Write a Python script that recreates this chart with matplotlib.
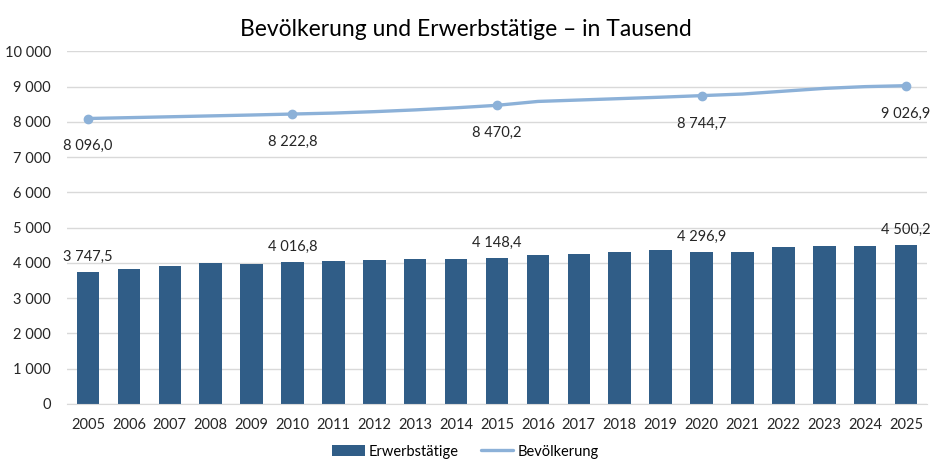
import matplotlib
matplotlib.use("Agg")
import matplotlib.pyplot as plt
from matplotlib.ticker import FuncFormatter

# ======== Data ========
years = list(range(2005, 2026))
erwerbstaetige = [3747.5, 3820, 3915, 3990, 3980, 4016.8, 4050, 4085, 4105, 4115,
                  4148.4, 4220, 4260, 4315, 4355, 4296.9, 4310, 4440, 4490, 4490, 4500.2]
bevoelkerung = [8096.0, 8120, 8145, 8170, 8195, 8222.8, 8250, 8290, 8340, 8400,
                8470.2, 8580, 8620, 8660, 8700, 8744.7, 8790, 8870, 8950, 9000, 9026.9]
labelled_years = [2005, 2010, 2015, 2020, 2025]

BAR_COLOR = "#305d87"
LINE_COLOR = "#8cb1d8"
GRID_COLOR = "#d9d9d9"
TEXT_COLOR = "#262626"

plt.rcParams["font.family"] = ["Lato", "DejaVu Sans"]


def de_num(v, decimals=0):
    s = f"{v:,.{decimals}f}"
    return s.replace(",", " ").replace(".", ",")


fig = plt.figure(figsize=(9.31, 4.67), dpi=100)
ax = fig.add_axes([0.0725, 0.135, 0.9227, 0.755])

x = list(range(len(years)))
bars = ax.bar(x, erwerbstaetige, width=0.55, color=BAR_COLOR, label="Erwerbstätige", zorder=2)
line, = ax.plot(x, bevoelkerung, color=LINE_COLOR, linewidth=2.4, label="Bevölkerung",
                zorder=3, solid_capstyle="round")

for i, yr in enumerate(years):
    if yr in labelled_years:
        ax.plot(i, bevoelkerung[i], "o", color=LINE_COLOR, markersize=6, zorder=4)
        ax.annotate(de_num(bevoelkerung[i], 1), (i, bevoelkerung[i]), xytext=(0, -20),
                    textcoords="offset points", ha="center", va="center",
                    fontsize=10.5, color=TEXT_COLOR)
        ax.annotate(de_num(erwerbstaetige[i], 1), (i, erwerbstaetige[i]), xytext=(0, 11),
                    textcoords="offset points", ha="center", va="center",
                    fontsize=10.5, color=TEXT_COLOR)

ax.set_xlim(-0.5, len(years) - 0.5)
ax.set_ylim(0, 10000)
ax.set_yticks(range(0, 10001, 1000))
ax.yaxis.set_major_formatter(FuncFormatter(lambda v, p: de_num(v)))
ax.set_xticks(x)
ax.set_xticklabels([str(y) for y in years])
ax.grid(axis="y", color=GRID_COLOR, linewidth=1, zorder=0)
ax.set_axisbelow(True)
for side in ["top", "right", "left"]:
    ax.spines[side].set_visible(False)
ax.spines["bottom"].set_color(GRID_COLOR)
ax.tick_params(axis="both", length=0, labelsize=10.5, colors=TEXT_COLOR)
ax.tick_params(axis="x", pad=10)
ax.tick_params(axis="y", pad=12)

fig.suptitle("Bevölkerung und Erwerbstätige – in Tausend", y=0.96, fontsize=16.5,
             color="black")
fig.legend([bars, line], ["Erwerbstätige", "Bevölkerung"], loc="lower center",
           bbox_to_anchor=(0.5, -0.01), ncol=2, frameon=False,
           fontsize=10.5, handlelength=2.2, handleheight=0.7, columnspacing=1.5,
           handletextpad=0.3)

fig.savefig("out.png", dpi=100)
